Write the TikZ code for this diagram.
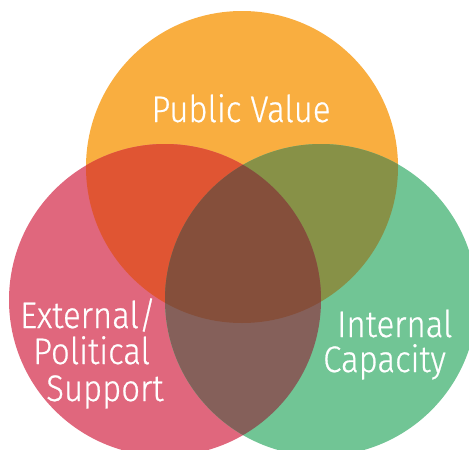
\documentclass[tikz,border=0pt]{standalone}
\usepackage{fontspec}
\setmainfont{Fira Sans Light}[FakeStretch=0.89,FakeBold=0.6]
\usepackage{xcolor}
\definecolor{pvorange}{HTML}{F9AE40}
\definecolor{extpink}{HTML}{E0677D}
\definecolor{intgreen}{HTML}{71C595}
\definecolor{orpink}{HTML}{E05533}
\definecolor{orgreen}{HTML}{879147}
\definecolor{pkgreen}{HTML}{85605A}
\definecolor{allthree}{HTML}{854F3B}

\begin{document}
\begin{tikzpicture}[x=1pt,y=-1pt,
  lbl/.style={text=white,inner sep=0pt,text height=0.7em,text depth=0pt,
    font=\fontsize{37}{37}\selectfont}]
  \def \R {156pt}
  \useasboundingbox (0,0) rectangle (469,450);
  \clip (0,0) rectangle (469,450);
  \coordinate (pv) at (242,167);
  \coordinate (ext) at (165,300);
  \coordinate (int) at (321,300);

  \fill [pvorange] (pv) circle [radius=\R];
  \fill [extpink] (ext) circle [radius=\R];
  \fill [intgreen] (int) circle [radius=\R];
  \begin{scope}
    \clip (pv) circle [radius=\R];
    \fill [orpink] (ext) circle [radius=\R];
    \fill [orgreen] (int) circle [radius=\R];
  \end{scope}
  \begin{scope}
    \clip (ext) circle [radius=\R];
    \fill [pkgreen] (int) circle [radius=\R];
    \clip (pv) circle [radius=\R];
    \fill [allthree] (int) circle [radius=\R];
  \end{scope}

  \node [lbl,anchor=base] (pvlabel) at (241,122) {Public Value};
  \node [lbl,anchor=base west] (ext1) at (20,328) {External/};
  \node [lbl,anchor=base west] (ext2) at (33,364) {Political};
  \node [lbl,anchor=base west] (ext3) at (46,401) {Support};
  \node [lbl,anchor=base west] (int1) at (337,337) {Internal};
  \node [lbl,anchor=base west] (int2) at (323,372) {Capacity};
\end{tikzpicture}
\end{document}
